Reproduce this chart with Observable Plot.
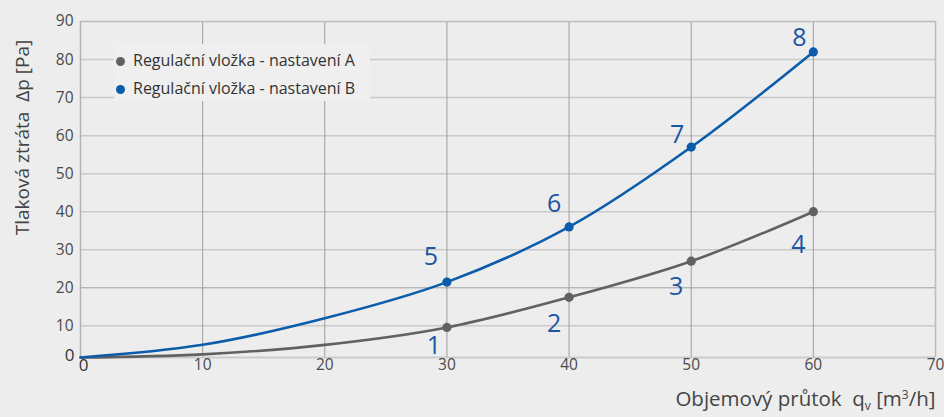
<!DOCTYPE html>
<html>
<head>
<meta charset="utf-8">
<script src="https://cdn.jsdelivr.net/npm/d3@7"></script>
<script src="https://cdn.jsdelivr.net/npm/@observablehq/plot@0.6"></script>
<style>
  html, body { margin: 0; padding: 0; background: #ededed; }
  #wrap { position: relative; width: 944px; height: 417px; font-family: "Open Sans", sans-serif; }
  #legend { position: absolute; left: 114px; top: 44px; width: 256px; height: 57px; background: #efefef; }
  .li { position: absolute; left: 0; font-size: 16px; color: #333; white-space: nowrap; }
  .li span.dot { position: absolute; left: 2px; width: 9px; height: 9px; border-radius: 50%; }
  .li span.t { position: absolute; left: 19px; }
</style>
</head>
<body>
<div id="wrap"></div>
<script>
// ---- data ----
const xTicks = [0, 10, 20, 30, 40, 50, 60, 70];
const yTicks = [0, 10, 20, 30, 40, 50, 60, 70, 80, 90];

// curve A (nastavení A)
const flowA = [0, 10, 20, 30, 40, 50, 60];
const lossA = [0, 1, 4, 9.5, 17.5, 27, 40];
// curve B (nastavení B)
const flowB = [0, 10, 20, 30, 40, 50, 60];
const lossB = [0, 4, 12, 21.5, 36, 57, 82];

// measured points
const markFlow = [30, 40, 50, 60];
const markA = [9.5, 17.5, 27, 40];
const markB = [21.5, 36, 57, 82];
const labelsA = ["1", "2", "3", "4"];
const labelsB = ["5", "6", "7", "8"];

const seriesNames = ["Regulační vložka - nastavení A", "Regulační vložka - nastavení B"];
const colorA = "#616161";
const colorB = "#0b5cab";
const labelColor = "#1b56a3";

// label nudges (layout only)
const nudgeA = [[-13, 19], [-15, 27], [-15, 26], [-15, 33]];
const nudgeB = [[-16, -25], [-15, -23], [-14, -12], [-14, -14]];

// the source chart's y axis is compressed between 0 and 10
const yWarp = v => v <= 10 ? v * 0.832 : 8.32 + (v - 10);

const curveA = flowA.map((x, i) => ({x, y: lossA[i]}));
const curveB = flowB.map((x, i) => ({x, y: lossB[i]}));
const ptsA = markFlow.map((x, i) => ({x, y: markA[i], label: labelsA[i]}));
const ptsB = markFlow.map((x, i) => ({x, y: markB[i], label: labelsB[i]}));

const labelMarks = [];
ptsA.forEach((d, i) => labelMarks.push(Plot.text([d], {x: "x", y: "y", text: "label", dx: nudgeA[i][0], dy: nudgeA[i][1], fill: labelColor, fontSize: 25})));
ptsB.forEach((d, i) => labelMarks.push(Plot.text([d], {x: "x", y: "y", text: "label", dx: nudgeB[i][0], dy: nudgeB[i][1], fill: labelColor, fontSize: 25})));

const chart = Plot.plot({
  width: 944,
  height: 417,
  marginLeft: 80,
  marginRight: 9,
  marginTop: 21,
  marginBottom: 60,
  style: {background: "#ededed", fontFamily: "Open Sans, sans-serif", overflow: "visible"},
  x: {domain: [0, 70], axis: null},
  y: {transform: yWarp, domain: [0, yWarp(90)], axis: null},
  marks: [
    // horizontal grid
    Plot.ruleY(yTicks.filter(v => v > 0 && v < 90 && v !== 20), {stroke: "#cacaca", strokeWidth: 1.5}),
    Plot.ruleY([20], {stroke: "#a0a0a0", strokeWidth: 1}),
    // vertical grid
    Plot.ruleX(xTicks.filter(v => v > 0 && v < 70), {stroke: "#9c9c9c", strokeWidth: 1}),
    // frame
    Plot.ruleY([90], {stroke: "#bdbdbd", strokeWidth: 1.5}),
    Plot.ruleY([0], {stroke: "#cbcbcb", strokeWidth: 2}),
    Plot.ruleX([0], {stroke: "#b3b3b3", strokeWidth: 1.5}),
    Plot.ruleX([70], {stroke: "#bdbdbd", strokeWidth: 1.5}),
    // tick labels
    Plot.text(yTicks.filter(v => v > 0), {y: d => d, text: d => String(d), frameAnchor: "left", textAnchor: "end", dx: -7, fontSize: 15.5, fill: "#4a4a4a"}),
    Plot.text([0], {y: d => d, text: d => String(d), frameAnchor: "left", textAnchor: "end", dx: -6, dy: -2, fontSize: 17, fill: "#333"}),
    Plot.text(xTicks.filter(v => v > 0), {x: d => d, text: d => String(d), frameAnchor: "bottom", dy: 12, fontSize: 15.5, fill: "#4a4a4a"}),
    Plot.text([0], {x: d => d, text: d => String(d), frameAnchor: "bottom", dx: 3, dy: 13, fontSize: 17, fill: "#333"}),
    // curves
    Plot.line(curveA, {x: "x", y: "y", stroke: colorA, strokeWidth: 2.6, curve: "catmull-rom"}),
    Plot.line(curveB, {x: "x", y: "y", stroke: colorB, strokeWidth: 2.6, curve: "catmull-rom"}),
    Plot.dot(ptsA, {x: "x", y: "y", r: 4.6, fill: colorA}),
    Plot.dot(ptsB, {x: "x", y: "y", r: 4.6, fill: colorB}),
    ...labelMarks,
    // axis titles
    Plot.text(["Tlaková ztráta  Δp [Pa]"], {frameAnchor: "left", textAnchor: "middle", rotate: -90, dx: -58, dy: -52, fontSize: 19, fill: "#444"}),
    Plot.text(["Objemový průtok  qv [m3/h]"], {frameAnchor: "bottom-right", textAnchor: "end", dx: 0, dy: 48, fontSize: 20.5, fill: "#444", className: "xtitle"})
  ]
});

document.getElementById("wrap").appendChild(chart);

// subscript / superscript in x title
const xt = chart.querySelector(".xtitle text");
if (xt) {
  xt.textContent = "";
  const ns = "http://www.w3.org/2000/svg";
  const parts = [["Objemový průtok  q", 0, null], ["v", 4, "12"], [" [m", -4, null], ["3", -7, "12"], ["/h]", 7, null]];
  for (const [t, dy, fs] of parts) {
    const ts = document.createElementNS(ns, "tspan");
    ts.textContent = t;
    if (dy) ts.setAttribute("dy", String(dy));
    if (fs) ts.setAttribute("font-size", fs);
    xt.appendChild(ts);
  }
}

// legend
const legend = document.createElement("div");
legend.id = "legend";
[[seriesNames[0], colorA, 5], [seriesNames[1], colorB, 33]].forEach(([name, col, top]) => {
  const li = document.createElement("div");
  li.className = "li";
  li.style.top = top + "px";
  li.innerHTML = `<span class="dot" style="background:${col};top:8px"></span><span class="t">${name}</span>`;
  legend.appendChild(li);
});
document.getElementById("wrap").appendChild(legend);
</script>
</body>
</html>
